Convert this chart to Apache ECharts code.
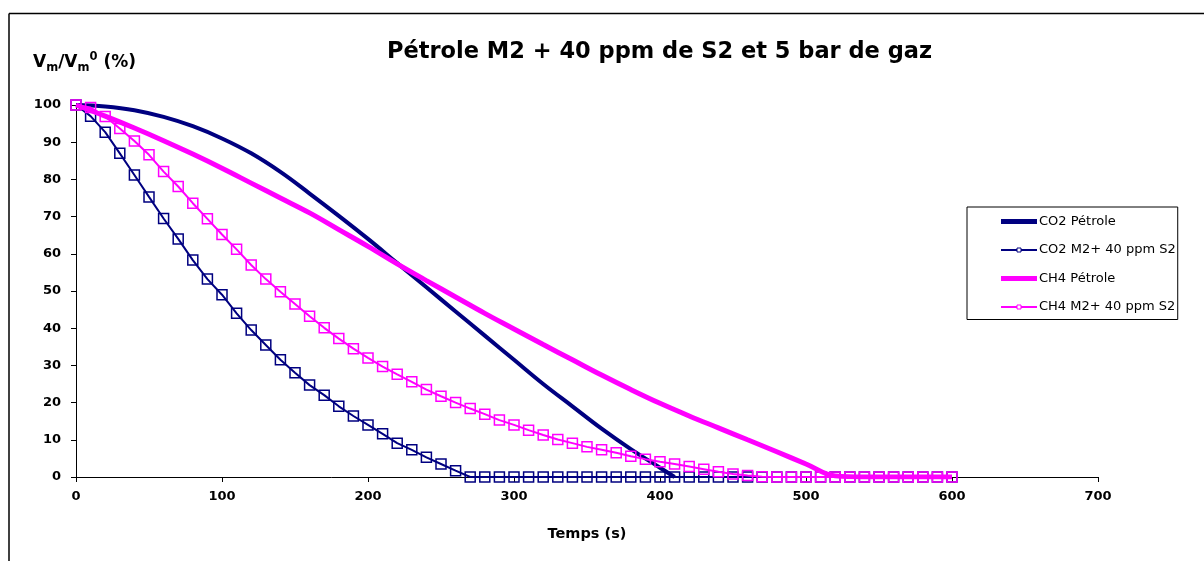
<!DOCTYPE html>
<html lang="fr">
<head>
  <meta charset="UTF-8">
  <title>Pétrole M2 + 40 ppm de S2 et 5 bar de gaz</title>
  <style>
    html, body { margin: 0; padding: 0; background: #fff; }
    #chart { width: 1204px; height: 561px; }
  </style>
  <script src="https://cdn.jsdelivr.net/npm/echarts@6/dist/echarts.min.js"></script>
</head>
<body>
  <div id="chart"></div>
  <script>
    // legend names
    var seriesNames = ['CO2 Pétrole', 'CO2 M2+ 40 ppm S2', 'CH4 Pétrole', 'CH4 M2+ 40 ppm S2'];

    // thick curves (no markers)
    var co2PetTimes = [0, 20, 40, 60, 80, 100, 120, 140, 160, 180, 200, 220, 240, 260, 280, 300, 320, 340, 360, 380, 400, 410];
    var co2PetValues = [100, 99.6, 98.6, 96.8, 94.3, 91, 87, 82, 76.2, 70.2, 64, 57.5, 51, 44.5, 38, 31.5, 25, 19, 13, 7.5, 2.5, 0];

    var ch4PetTimes = [0, 20, 40, 60, 80, 100, 120, 140, 160, 180, 200, 220, 240, 260, 280, 300, 320, 340, 360, 380, 400, 420, 440, 460, 480, 500, 520, 540, 560, 580, 600];
    var ch4PetValues = [100, 97, 93.8, 90.4, 86.8, 83, 79, 75, 71, 66.5, 62, 57.3, 52.8, 48.4, 44, 39.8, 35.6, 31.5, 27.4, 23.5, 19.8, 16.4, 13.2, 10, 6.8, 3.5, 0.3, 0, 0, 0, 0];

    // square-marker series, one point every 10 s
    var sampleTimes = [0, 10, 20, 30, 40, 50, 60, 70, 80, 90, 100, 110, 120, 130, 140, 150, 160, 170, 180, 190, 200,
      210, 220, 230, 240, 250, 260, 270, 280, 290, 300, 310, 320, 330, 340, 350, 360, 370, 380, 390, 400,
      410, 420, 430, 440, 450, 460, 470, 480, 490, 500, 510, 520, 530, 540, 550, 560, 570, 580, 590, 600];
    var co2M2Values = [100, 97, 92.7, 87, 81.2, 75.3, 69.5, 64, 58.3, 53.2, 49, 44, 39.5, 35.5, 31.5, 28, 24.7, 22, 19, 16.4, 14,
      11.6, 9.1, 7.3, 5.3, 3.5, 1.7, 0, 0, 0, 0, 0, 0, 0, 0, 0, 0, 0, 0, 0, 0,
      0, 0, 0, 0, 0, 0, 0, 0, 0, 0, 0, 0, 0, 0, 0, 0, 0, 0, 0, 0];
    var ch4M2Values = [100, 99.3, 96.9, 93.7, 90.3, 86.6, 82.1, 78.1, 73.6, 69.4, 65.2, 61.2, 57, 53.2, 49.8, 46.5, 43.2, 40.1, 37.2, 34.5, 32,
      29.7, 27.6, 25.6, 23.5, 21.7, 20, 18.4, 16.9, 15.3, 14, 12.6, 11.3, 10.1, 9.1, 8.1, 7.3, 6.5, 5.6, 4.8, 4.1,
      3.5, 2.8, 2.1, 1.4, 0.8, 0.4, 0.1, 0, 0, 0, 0, 0, 0, 0, 0, 0, 0, 0, 0, 0];

    function pairs(xs, ys) {
      return xs.map(function (x, i) { return [x, ys[i]]; });
    }

    var NAVY = '#000080';
    var MAGENTA = '#ff00ff';
    var FONT = 'DejaVu Sans';

    var myChart = echarts.init(document.getElementById('chart'));
    var option = {
      backgroundColor: '#fff',
      animation: false,
      title: {
        text: 'Pétrole M2 + 40 ppm de S2 et 5 bar de gaz',
        left: 382,
        top: 36,
        textStyle: { fontFamily: FONT, fontSize: 22.5, fontWeight: 'bold', color: '#000' }
      },
      graphic: [
        // outer frame (top and left edges visible)
        { type: 'line', shape: { x1: 9, y1: 13.5, x2: 1204, y2: 13.5 }, style: { stroke: '#000', lineWidth: 1.5 } },
        { type: 'line', shape: { x1: 9, y1: 13.5, x2: 9, y2: 561 }, style: { stroke: '#000', lineWidth: 1.5 } },
        // y axis title with sub/superscripts
        {
          type: 'text', left: 33, top: 51,
          style: {
            text: '{v|V}{s|m}{v|/V}{s|m}{p|0}{v| (%)}',
            fill: '#000',
            rich: {
              v: { fontFamily: FONT, fontSize: 17, fontWeight: 'bold', lineHeight: 23, verticalAlign: 'middle' },
              s: { fontFamily: FONT, fontSize: 11.5, fontWeight: 'bold', lineHeight: 23, verticalAlign: 'bottom' },
              p: { fontFamily: FONT, fontSize: 11.5, fontWeight: 'bold', lineHeight: 23, verticalAlign: 'top' }
            }
          }
        }
      ],
      legend: {
        orient: 'vertical',
        left: 967,
        top: 207,
        padding: [8, 2, 6, 33],
        itemWidth: 36,
        itemHeight: 5,
        itemGap: 15.5,
        borderColor: '#000',
        borderWidth: 1,
        backgroundColor: '#fff',
        textStyle: { fontFamily: FONT, fontSize: 13, color: '#000', padding: [0, 0, 0, -3] },
        data: [
          { name: seriesNames[0], icon: 'rect', itemStyle: { color: NAVY } },
          { name: seriesNames[1], itemStyle: { color: '#fff', borderColor: NAVY, borderWidth: 1 } },
          { name: seriesNames[2], icon: 'rect', itemStyle: { color: MAGENTA } },
          { name: seriesNames[3], itemStyle: { color: '#fff', borderColor: MAGENTA, borderWidth: 1 } }
        ]
      },
      grid: { left: 76, right: 106, top: 105, bottom: 84 },
      xAxis: {
        type: 'value',
        min: 0, max: 700, interval: 100,
        name: 'Temps (s)',
        nameLocation: 'middle',
        nameGap: 50,
        nameTextStyle: { fontFamily: FONT, fontSize: 14.5, fontWeight: 'bold', color: '#000' },
        axisLine: { show: true, onZero: false, lineStyle: { color: '#000', width: 1 } },
        axisTick: { show: true, inside: false, length: 5, lineStyle: { color: '#000' } },
        axisLabel: { fontFamily: FONT, fontSize: 13, fontWeight: 'bold', color: '#000', margin: 13 },
        splitLine: { show: false }
      },
      yAxis: {
        type: 'value',
        min: 0, max: 100, interval: 10,
        axisLine: { show: true, lineStyle: { color: '#000', width: 1 } },
        axisTick: { show: true, inside: false, length: 5, lineStyle: { color: '#000' } },
        axisLabel: { fontFamily: FONT, fontSize: 13, fontWeight: 'bold', color: '#000', margin: 15 },
        splitLine: { show: false }
      },
      series: [
        {
          name: seriesNames[0], type: 'line',
          data: pairs(co2PetTimes, co2PetValues),
          smooth: 0.4,
          symbol: 'none', showSymbol: false,
          lineStyle: { color: NAVY, width: 4 },
          itemStyle: { color: NAVY },
          z: 2
        },
        {
          name: seriesNames[1], type: 'line',
          data: pairs(sampleTimes, co2M2Values),
          symbol: 'rect', symbolSize: 10,
          lineStyle: { color: NAVY, width: 2 },
          itemStyle: { color: 'rgba(0,0,0,0)', borderColor: NAVY, borderWidth: 1.5 },
          z: 3
        },
        {
          name: seriesNames[2], type: 'line',
          data: pairs(ch4PetTimes, ch4PetValues),
          smooth: 0.4,
          symbol: 'none', showSymbol: false,
          lineStyle: { color: MAGENTA, width: 5 },
          itemStyle: { color: MAGENTA },
          z: 4
        },
        {
          name: seriesNames[3], type: 'line',
          data: pairs(sampleTimes, ch4M2Values),
          symbol: 'rect', symbolSize: 10,
          lineStyle: { color: MAGENTA, width: 2 },
          itemStyle: { color: 'rgba(0,0,0,0)', borderColor: MAGENTA, borderWidth: 1.5 },
          z: 5
        }
      ]
    };
    myChart.setOption(option);
  </script>
</body>
</html>
